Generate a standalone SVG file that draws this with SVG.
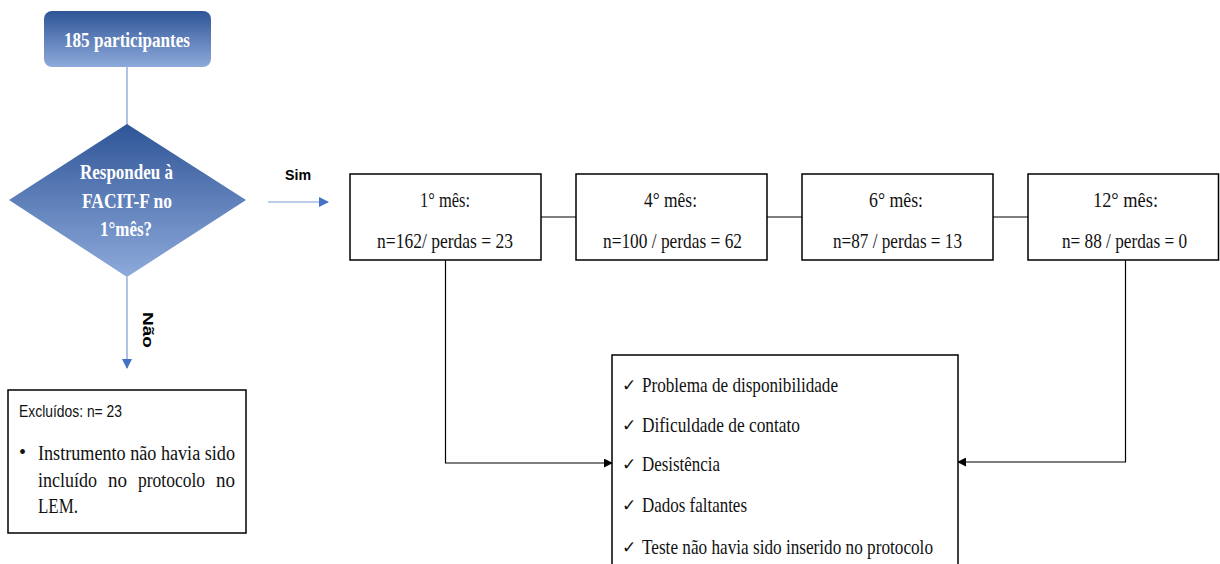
<svg xmlns="http://www.w3.org/2000/svg" width="1220" height="564" viewBox="0 0 1220 564">
<defs>
<linearGradient id="gBlue" x1="0" y1="0" x2="0" y2="1">
<stop offset="0" stop-color="#2f5597"/>
<stop offset="1" stop-color="#8eaadb"/>
</linearGradient>
<marker id="aBlue" viewBox="0 0 10 10" refX="9" refY="5" markerWidth="10" markerHeight="10" markerUnits="userSpaceOnUse" orient="auto">
<path d="M0,0 L10,5 L0,10 z" fill="#4472c4"/>
</marker>
<marker id="aBlack" viewBox="0 0 10 10" refX="9" refY="5" markerWidth="9" markerHeight="9" markerUnits="userSpaceOnUse" orient="auto">
<path d="M0,0 L10,5 L0,10 z" fill="#000"/>
</marker>
</defs>
<style>
.box{fill:#fff;stroke:#000;stroke-width:1.5}
.serif{font-family:"Liberation Serif","Times New Roman",serif;fill:#111}
.wb{font-family:"Liberation Serif","Times New Roman",serif;font-weight:bold;fill:#fff}
.lbl{font-family:"Liberation Sans",Arial,sans-serif;font-weight:bold;fill:#000;font-size:15px}
.conn{fill:none;stroke:#000;stroke-width:1.2}
.blue{fill:none;stroke:#7b9bd6;stroke-width:1.2}
</style>
<g id="connectors">
<line class="blue" x1="127" y1="67" x2="127" y2="125"/>
<line class="blue" x1="127" y1="277" x2="127" y2="368" marker-end="url(#aBlue)"/>
<line class="blue" x1="268" y1="202" x2="328" y2="202" marker-end="url(#aBlue)"/>
<line class="conn" x1="541" y1="217" x2="576" y2="217"/>
<line class="conn" x1="767" y1="217" x2="802" y2="217"/>
<line class="conn" x1="993" y1="217" x2="1028" y2="217"/>
<polyline class="conn" points="445.5,260 445.5,463 612,463" marker-end="url(#aBlack)"/>
<polyline class="conn" points="1125.5,260 1125.5,462 958,462" marker-end="url(#aBlack)"/>
<text class="lbl" x="285" y="180" textLength="26" lengthAdjust="spacingAndGlyphs">Sim</text>
<text class="lbl" transform="translate(143,312) rotate(90)" x="0" y="0" textLength="36" lengthAdjust="spacingAndGlyphs">Não</text>
</g>
<g id="start">
<rect x="44" y="11" width="167" height="56" rx="8" fill="url(#gBlue)"/>
<text class="wb" x="64" y="47" font-size="22" textLength="126" lengthAdjust="spacingAndGlyphs">185 participantes</text>
</g>
<g id="decision">
<polygon points="127,124 246,200 127,277 9,200" fill="url(#gBlue)"/>
<text class="wb" x="80" y="179" font-size="22" textLength="93" lengthAdjust="spacingAndGlyphs">Respondeu à</text>
<text class="wb" x="82" y="208" font-size="22" textLength="90" lengthAdjust="spacingAndGlyphs">FACIT-F no</text>
<text class="wb" x="100" y="236" font-size="22" textLength="52" lengthAdjust="spacingAndGlyphs">1°mês?</text>
</g>
<g id="excluded">
<rect class="box" x="8" y="390" width="238" height="143"/>
<text x="19" y="417" font-family="'Liberation Sans',Arial,sans-serif" font-size="16" fill="#111" textLength="103" lengthAdjust="spacingAndGlyphs">Excluídos: n= 23</text>
<text class="serif" x="19" y="459" font-size="20">•</text>
<text class="serif" x="38" y="460" font-size="20" textLength="197" lengthAdjust="spacingAndGlyphs">Instrumento não havia sido</text>
<text class="serif" x="38" y="487" font-size="20" textLength="59" lengthAdjust="spacingAndGlyphs">incluído</text>
<text class="serif" x="108" y="487" font-size="20" textLength="19" lengthAdjust="spacingAndGlyphs">no</text>
<text class="serif" x="138" y="487" font-size="20" textLength="67" lengthAdjust="spacingAndGlyphs">protocolo</text>
<text class="serif" x="216" y="487" font-size="20" textLength="19" lengthAdjust="spacingAndGlyphs">no</text>
<text class="serif" x="38" y="513" font-size="20" textLength="40" lengthAdjust="spacingAndGlyphs">LEM.</text>
</g>
<g id="m1">
<rect class="box" x="350" y="174" width="191" height="86"/>
<text class="serif" x="420" y="207" font-size="22" textLength="50" lengthAdjust="spacingAndGlyphs">1° mês:</text>
<text class="serif" x="377" y="248" font-size="22" textLength="136" lengthAdjust="spacingAndGlyphs">n=162/ perdas = 23</text>
</g>
<g id="m4">
<rect class="box" x="576" y="174" width="191" height="86"/>
<text class="serif" x="644" y="207" font-size="22" textLength="53" lengthAdjust="spacingAndGlyphs">4° mês:</text>
<text class="serif" x="603" y="248" font-size="22" textLength="139" lengthAdjust="spacingAndGlyphs">n=100 / perdas = 62</text>
</g>
<g id="m6">
<rect class="box" x="802" y="174" width="191" height="86"/>
<text class="serif" x="869" y="207" font-size="22" textLength="54" lengthAdjust="spacingAndGlyphs">6° mês:</text>
<text class="serif" x="833" y="248" font-size="22" textLength="129" lengthAdjust="spacingAndGlyphs">n=87 / perdas = 13</text>
</g>
<g id="m12">
<rect class="box" x="1028" y="174" width="190.5" height="86"/>
<text class="serif" x="1093" y="207" font-size="22" textLength="65" lengthAdjust="spacingAndGlyphs">12° mês:</text>
<text class="serif" x="1062" y="248" font-size="22" textLength="125" lengthAdjust="spacingAndGlyphs">n= 88 / perdas = 0</text>
</g>
<g id="reasons">
<rect class="box" x="612" y="355" width="346" height="230"/>
<g class="serif" font-size="22">
<text x="622" y="391" font-size="17" font-family="'DejaVu Sans',sans-serif">✓</text>
<text x="642" y="392" textLength="196" lengthAdjust="spacingAndGlyphs">Problema de disponibilidade</text>
<text x="622" y="431" font-size="17" font-family="'DejaVu Sans',sans-serif">✓</text>
<text x="642" y="432" textLength="158" lengthAdjust="spacingAndGlyphs">Dificuldade  de contato</text>
<text x="622" y="470" font-size="17" font-family="'DejaVu Sans',sans-serif">✓</text>
<text x="642" y="471" textLength="78" lengthAdjust="spacingAndGlyphs">Desistência</text>
<text x="622" y="511" font-size="17" font-family="'DejaVu Sans',sans-serif">✓</text>
<text x="642" y="512" textLength="105" lengthAdjust="spacingAndGlyphs">Dados faltantes</text>
<text x="622" y="553" font-size="17" font-family="'DejaVu Sans',sans-serif">✓</text>
<text x="642" y="554" textLength="291" lengthAdjust="spacingAndGlyphs">Teste não havia sido inserido no protocolo</text>
</g>
</g>
</svg>
